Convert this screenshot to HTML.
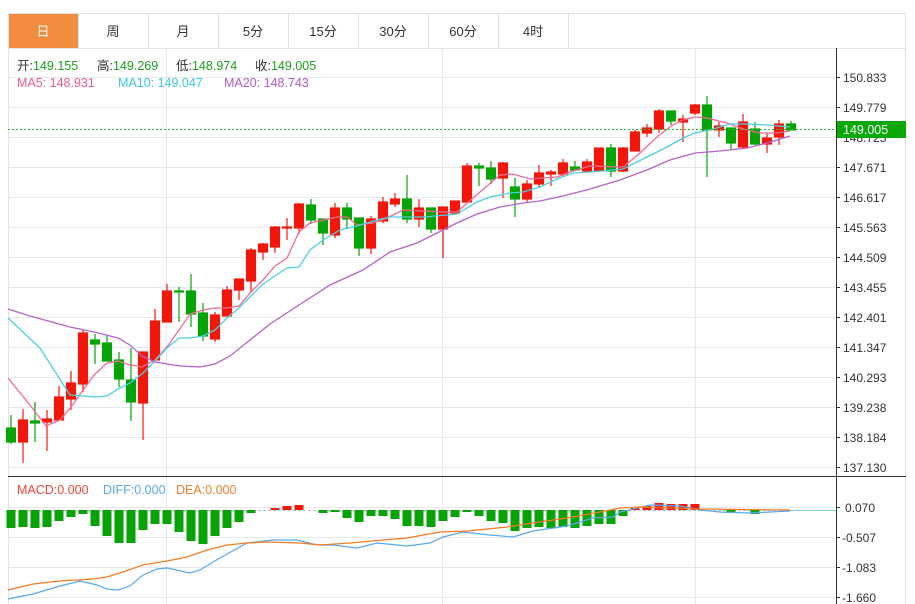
<!DOCTYPE html>
<html><head><meta charset="utf-8"><style>
html,body{margin:0;padding:0;background:#fff;}
body{width:915px;height:604px;overflow:hidden;position:relative;font-family:"Liberation Sans","Noto Sans CJK SC",sans-serif;}
svg{position:absolute;left:0;top:0;}
</style></head><body>
<svg width="915" height="604" xmlns="http://www.w3.org/2000/svg" font-family="Liberation Sans, Noto Sans CJK SC, sans-serif">
<rect x="8.5" y="13.5" width="897" height="600" fill="none" stroke="#dde3ea"/>
<line x1="8" y1="48.5" x2="906" y2="48.5" stroke="#dde3ea"/>
<rect x="9" y="14" width="69" height="34" fill="#f28c3f"/>
<g stroke="#dde3ea"><line x1="78.5" y1="13" x2="78.5" y2="48"/><line x1="148.5" y1="13" x2="148.5" y2="48"/><line x1="218.5" y1="13" x2="218.5" y2="48"/><line x1="288.5" y1="13" x2="288.5" y2="48"/><line x1="358.5" y1="13" x2="358.5" y2="48"/><line x1="428.5" y1="13" x2="428.5" y2="48"/><line x1="498.5" y1="13" x2="498.5" y2="48"/><line x1="568.5" y1="13" x2="568.5" y2="48"/></g>
<g font-size="13" text-anchor="middle" fill="#333"><text x="43" y="36" fill="#fff">日</text><text x="113" y="36">周</text><text x="183" y="36">月</text><text x="253" y="36">5分</text><text x="323" y="36">15分</text><text x="393" y="36">30分</text><text x="463" y="36">60分</text><text x="533" y="36">4时</text></g>
<g stroke="#e3e9ef" stroke-width="1">
<line x1="8" y1="77.5" x2="836" y2="77.5"/><line x1="8" y1="107.5" x2="836" y2="107.5"/><line x1="8" y1="137.5" x2="836" y2="137.5"/><line x1="8" y1="167.5" x2="836" y2="167.5"/><line x1="8" y1="197.5" x2="836" y2="197.5"/><line x1="8" y1="227.5" x2="836" y2="227.5"/><line x1="8" y1="257.5" x2="836" y2="257.5"/><line x1="8" y1="287.5" x2="836" y2="287.5"/><line x1="8" y1="317.5" x2="836" y2="317.5"/><line x1="8" y1="347.5" x2="836" y2="347.5"/><line x1="8" y1="377.5" x2="836" y2="377.5"/><line x1="8" y1="407.5" x2="836" y2="407.5"/><line x1="8" y1="437.5" x2="836" y2="437.5"/><line x1="8" y1="467.5" x2="836" y2="467.5"/>
<line x1="8" y1="507.5" x2="836" y2="507.5"/><line x1="8" y1="537.5" x2="836" y2="537.5"/><line x1="8" y1="567.5" x2="836" y2="567.5"/><line x1="8" y1="597.5" x2="836" y2="597.5"/>
<line x1="166.5" y1="48" x2="166.5" y2="604"/><line x1="442.5" y1="48" x2="442.5" y2="604"/><line x1="695.5" y1="48" x2="695.5" y2="604"/>
</g>
<line x1="836.5" y1="48" x2="836.5" y2="604" stroke="#333"/>
<line x1="8" y1="476.5" x2="906" y2="476.5" stroke="#333"/>
<g stroke="#333"><line x1="836" y1="77.5" x2="840" y2="77.5"/><line x1="836" y1="107.5" x2="840" y2="107.5"/><line x1="836" y1="137.5" x2="840" y2="137.5"/><line x1="836" y1="167.5" x2="840" y2="167.5"/><line x1="836" y1="197.5" x2="840" y2="197.5"/><line x1="836" y1="227.5" x2="840" y2="227.5"/><line x1="836" y1="257.5" x2="840" y2="257.5"/><line x1="836" y1="287.5" x2="840" y2="287.5"/><line x1="836" y1="317.5" x2="840" y2="317.5"/><line x1="836" y1="347.5" x2="840" y2="347.5"/><line x1="836" y1="377.5" x2="840" y2="377.5"/><line x1="836" y1="407.5" x2="840" y2="407.5"/><line x1="836" y1="437.5" x2="840" y2="437.5"/><line x1="836" y1="467.5" x2="840" y2="467.5"/><line x1="836" y1="507.5" x2="840" y2="507.5"/><line x1="836" y1="537.5" x2="840" y2="537.5"/><line x1="836" y1="567.5" x2="840" y2="567.5"/><line x1="836" y1="597.5" x2="840" y2="597.5"/></g>
<g font-size="12" fill="#333">
<text x="843" y="82">150.833</text><text x="843" y="112">149.779</text><text x="843" y="142">148.725</text><text x="843" y="172">147.671</text><text x="843" y="202">146.617</text><text x="843" y="232">145.563</text><text x="843" y="262">144.509</text><text x="843" y="292">143.455</text><text x="843" y="322">142.401</text><text x="843" y="352">141.347</text><text x="843" y="382">140.293</text><text x="843" y="412">139.238</text><text x="843" y="442">138.184</text><text x="843" y="472">137.130</text>
<text x="845" y="512">0.070</text><text x="842" y="542">-0.507</text><text x="842" y="572">-1.083</text><text x="842" y="602">-1.660</text>
</g>
<g font-size="12.5">
<text x="17" y="70" fill="#333">开:<tspan fill="#1aa31a">149.155</tspan></text>
<text x="97" y="70" fill="#333">高:<tspan fill="#1aa31a">149.269</tspan></text>
<text x="176" y="70" fill="#333">低:<tspan fill="#1aa31a">148.974</tspan></text>
<text x="255" y="70" fill="#333">收:<tspan fill="#1aa31a">149.005</tspan></text>
<text x="17" y="87" fill="#ef5b8a">MA5: 148.931</text>
<text x="118" y="87" fill="#3cc8de">MA10: 149.047</text>
<text x="224" y="87" fill="#b45ccc">MA20: 148.743</text>
<text x="17" y="494" fill="#f0443a">MACD:0.000</text>
<text x="103" y="494" fill="#5aa9f0">DIFF:0.000</text>
<text x="176" y="494" fill="#f08030">DEA:0.000</text>
</g>
<g stroke-width="1.2">
<g stroke="#05a305" fill="#05a305">
<line x1="11" y1="415" x2="11" y2="444"/><rect x="6.5" y="428" width="9" height="14"/>
<line x1="35" y1="402" x2="35" y2="442"/><rect x="30.5" y="421" width="9" height="2"/>
<line x1="95" y1="334" x2="95" y2="364"/><rect x="90.5" y="340" width="9" height="4"/>
<line x1="107" y1="336" x2="107" y2="361"/><rect x="102.5" y="343" width="9" height="18"/>
<line x1="119" y1="352" x2="119" y2="387"/><rect x="114.5" y="360" width="9" height="19"/>
<line x1="131" y1="348" x2="131" y2="421"/><rect x="126.5" y="380" width="9" height="22"/>
<line x1="179" y1="287" x2="179" y2="322"/><rect x="174.5" y="291" width="9" height="1"/>
<line x1="191" y1="274" x2="191" y2="327"/><rect x="186.5" y="291" width="9" height="23"/>
<line x1="203" y1="303" x2="203" y2="341"/><rect x="198.5" y="313" width="9" height="23"/>
<line x1="311" y1="199" x2="311" y2="224"/><rect x="306.5" y="205" width="9" height="15"/>
<line x1="323" y1="219" x2="323" y2="245"/><rect x="318.5" y="219" width="9" height="14"/>
<line x1="347" y1="203" x2="347" y2="228"/><rect x="342.5" y="208" width="9" height="11"/>
<line x1="359" y1="218" x2="359" y2="256"/><rect x="354.5" y="218" width="9" height="30"/>
<line x1="407" y1="175" x2="407" y2="223"/><rect x="402.5" y="199" width="9" height="20"/>
<line x1="431" y1="208" x2="431" y2="233"/><rect x="426.5" y="208" width="9" height="21"/>
<line x1="479" y1="163" x2="479" y2="186"/><rect x="474.5" y="166" width="9" height="2"/>
<line x1="491" y1="161" x2="491" y2="184"/><rect x="486.5" y="168" width="9" height="11"/>
<line x1="515" y1="178" x2="515" y2="217"/><rect x="510.5" y="187" width="9" height="12"/>
<line x1="575" y1="161" x2="575" y2="171"/><rect x="570.5" y="167" width="9" height="3"/>
<line x1="611" y1="144" x2="611" y2="177"/><rect x="606.5" y="148" width="9" height="23"/>
<line x1="671" y1="111" x2="671" y2="125"/><rect x="666.5" y="111" width="9" height="10"/>
<line x1="707" y1="96" x2="707" y2="177"/><rect x="702.5" y="105" width="9" height="25"/>
<line x1="731" y1="128" x2="731" y2="150"/><rect x="726.5" y="128" width="9" height="15"/>
<line x1="755" y1="122" x2="755" y2="145"/><rect x="750.5" y="129" width="9" height="15"/>
<line x1="791" y1="121" x2="791" y2="130"/><rect x="786.5" y="124" width="9" height="6"/>
</g>
<g stroke="#f2170b" fill="#f2170b">
<line x1="23" y1="409" x2="23" y2="463"/><rect x="18.5" y="420" width="9" height="22"/>
<line x1="47" y1="410" x2="47" y2="451"/><rect x="42.5" y="419" width="9" height="3"/>
<line x1="59" y1="386" x2="59" y2="420"/><rect x="54.5" y="397" width="9" height="23"/>
<line x1="71" y1="371" x2="71" y2="410"/><rect x="66.5" y="383" width="9" height="16"/>
<line x1="83" y1="330" x2="83" y2="392"/><rect x="78.5" y="333" width="9" height="51"/>
<line x1="143" y1="352" x2="143" y2="440"/><rect x="138.5" y="352" width="9" height="51"/>
<line x1="155" y1="309" x2="155" y2="360"/><rect x="150.5" y="321" width="9" height="39"/>
<line x1="167" y1="284" x2="167" y2="322"/><rect x="162.5" y="291" width="9" height="31"/>
<line x1="215" y1="312" x2="215" y2="342"/><rect x="210.5" y="315" width="9" height="24"/>
<line x1="227" y1="286" x2="227" y2="316"/><rect x="222.5" y="290" width="9" height="26"/>
<line x1="239" y1="279" x2="239" y2="300"/><rect x="234.5" y="279" width="9" height="11"/>
<line x1="251" y1="248" x2="251" y2="292"/><rect x="246.5" y="250" width="9" height="31"/>
<line x1="263" y1="243" x2="263" y2="260"/><rect x="258.5" y="244" width="9" height="8"/>
<line x1="275" y1="226" x2="275" y2="253"/><rect x="270.5" y="227" width="9" height="20"/>
<line x1="287" y1="218" x2="287" y2="240"/><rect x="282.5" y="227" width="9" height="1"/>
<line x1="299" y1="203" x2="299" y2="234"/><rect x="294.5" y="204" width="9" height="24"/>
<line x1="335" y1="203" x2="335" y2="238"/><rect x="330.5" y="208" width="9" height="27"/>
<line x1="371" y1="216" x2="371" y2="254"/><rect x="366.5" y="219" width="9" height="29"/>
<line x1="383" y1="197" x2="383" y2="223"/><rect x="378.5" y="202" width="9" height="19"/>
<line x1="395" y1="193" x2="395" y2="207"/><rect x="390.5" y="199" width="9" height="5"/>
<line x1="419" y1="199" x2="419" y2="227"/><rect x="414.5" y="208" width="9" height="11"/>
<line x1="443" y1="207" x2="443" y2="258"/><rect x="438.5" y="207" width="9" height="22"/>
<line x1="455" y1="201" x2="455" y2="213"/><rect x="450.5" y="201" width="9" height="12"/>
<line x1="467" y1="163" x2="467" y2="202"/><rect x="462.5" y="166" width="9" height="36"/>
<line x1="503" y1="162" x2="503" y2="198"/><rect x="498.5" y="163" width="9" height="15"/>
<line x1="527" y1="180" x2="527" y2="202"/><rect x="522.5" y="184" width="9" height="15"/>
<line x1="539" y1="165" x2="539" y2="187"/><rect x="534.5" y="173" width="9" height="11"/>
<line x1="551" y1="170" x2="551" y2="186"/><rect x="546.5" y="172" width="9" height="2"/>
<line x1="563" y1="159" x2="563" y2="177"/><rect x="558.5" y="163" width="9" height="11"/>
<line x1="587" y1="159" x2="587" y2="172"/><rect x="582.5" y="162" width="9" height="9"/>
<line x1="599" y1="148" x2="599" y2="171"/><rect x="594.5" y="148" width="9" height="23"/>
<line x1="623" y1="147" x2="623" y2="172"/><rect x="618.5" y="148" width="9" height="23"/>
<line x1="635" y1="130" x2="635" y2="151"/><rect x="630.5" y="132" width="9" height="19"/>
<line x1="647" y1="124" x2="647" y2="137"/><rect x="642.5" y="128" width="9" height="5"/>
<line x1="659" y1="109" x2="659" y2="133"/><rect x="654.5" y="111" width="9" height="18"/>
<line x1="683" y1="115" x2="683" y2="142"/><rect x="678.5" y="119" width="9" height="3"/>
<line x1="695" y1="104" x2="695" y2="115"/><rect x="690.5" y="105" width="9" height="8"/>
<line x1="719" y1="122" x2="719" y2="137"/><rect x="714.5" y="126" width="9" height="4"/>
<line x1="743" y1="114" x2="743" y2="148"/><rect x="738.5" y="122" width="9" height="25"/>
<line x1="767" y1="133" x2="767" y2="153"/><rect x="762.5" y="138" width="9" height="6"/>
<line x1="779" y1="120" x2="779" y2="145"/><rect x="774.5" y="124" width="9" height="13"/>
</g>
</g>
<g fill="none" stroke-width="1.3">
<polyline stroke="#ef6a94" points="8,378 30,405 46,426 60,420 71,407 94,375 107,363 118,361 130,365 142,367 155,360 167,347 179,330 190,314 203,310 215,308 227,308 239,306 251,292 263,280 275,266 287,258 299,232 310,223 337,217 347,217 357,225 373,223 387,218 403,210 423,211 447,212 457,212 480,192 500,175 513,174 530,179 557,177 570,172 590,166 623,167 640,153 657,137 670,127 680,121 695,117 707,118 727,123 743,129 760,133 777,133 790,131"/>
<polyline stroke="#4cd0e0" points="8,318 40,348 70,395 95,397 107,396 118,389 130,383 142,374 155,361 167,348 179,338 190,338 203,336 215,330 227,318 239,308 251,296 263,284 275,276 287,268 299,267 310,250 323,240 340,230 357,226 377,220 390,217 423,217 447,215 457,214 477,202 490,197 510,193 523,192 540,187 557,179 573,173 590,172 623,169 647,157 667,147 683,138 695,133 713,129 730,124 747,124 767,125 790,127"/>
<polyline stroke="#b762c9" points="8,309 30,316 70,327 94,332 118,338 130,345 142,356 155,362 180,366 200,367 215,364 230,356 250,340 270,324 299,305 330,285 363,270 390,252 417,243 437,233 457,223 477,214 500,207 523,203 540,201 563,196 590,189 620,180 647,170 670,160 695,153 720,151 747,148 767,143 790,136"/>
</g>
<line x1="8" y1="129.5" x2="836" y2="129.5" stroke="#2fb52f" stroke-dasharray="2,2"/>
<rect x="837" y="121" width="69" height="17" fill="#08a808"/>
<text x="843" y="134" font-size="12.5" fill="#fff">149.005</text>
<line x1="8" y1="510.5" x2="836" y2="510.5" stroke="#a8c4d8" stroke-dasharray="3,2"/>
<g fill="#05a305">
<rect x="6.5" y="510" width="9" height="18"/><rect x="18.5" y="510" width="9" height="17"/><rect x="30.5" y="510" width="9" height="18"/><rect x="42.5" y="510" width="9" height="17"/><rect x="54.5" y="510" width="9" height="11"/><rect x="66.5" y="510" width="9" height="7"/><rect x="78.5" y="510" width="9" height="4"/><rect x="90.5" y="510" width="9" height="16"/><rect x="102.5" y="510" width="9" height="26"/><rect x="114.5" y="510" width="9" height="33"/><rect x="126.5" y="510" width="9" height="33"/><rect x="138.5" y="510" width="9" height="20"/><rect x="150.5" y="510" width="9" height="14"/><rect x="162.5" y="510" width="9" height="14"/><rect x="174.5" y="510" width="9" height="22"/><rect x="186.5" y="510" width="9" height="31"/><rect x="198.5" y="510" width="9" height="34"/><rect x="210.5" y="510" width="9" height="26"/><rect x="222.5" y="510" width="9" height="18"/><rect x="234.5" y="510" width="9" height="12"/><rect x="246.5" y="510" width="9" height="3"/>
<rect x="318.5" y="510" width="9" height="3"/><rect x="330.5" y="510" width="9" height="2"/><rect x="342.5" y="510" width="9" height="8"/><rect x="354.5" y="510" width="9" height="12"/><rect x="366.5" y="510" width="9" height="6"/><rect x="378.5" y="510" width="9" height="6"/><rect x="390.5" y="510" width="9" height="9"/><rect x="402.5" y="510" width="9" height="16"/><rect x="414.5" y="510" width="9" height="16"/><rect x="426.5" y="510" width="9" height="17"/><rect x="438.5" y="510" width="9" height="11"/><rect x="450.5" y="510" width="9" height="7"/><rect x="462.5" y="510" width="9" height="2"/><rect x="474.5" y="510" width="9" height="6"/><rect x="486.5" y="510" width="9" height="11"/><rect x="498.5" y="510" width="9" height="13"/><rect x="510.5" y="510" width="9" height="21"/><rect x="522.5" y="510" width="9" height="18"/><rect x="534.5" y="510" width="9" height="17"/><rect x="546.5" y="510" width="9" height="18"/><rect x="558.5" y="510" width="9" height="17"/><rect x="570.5" y="510" width="9" height="18"/><rect x="582.5" y="510" width="9" height="16"/><rect x="594.5" y="510" width="9" height="14"/><rect x="606.5" y="510" width="9" height="14"/><rect x="618.5" y="510" width="9" height="6"/>
<rect x="726.5" y="510" width="9" height="3"/><rect x="750.5" y="510" width="9" height="4"/>
</g>
<g fill="#f2170b">
<rect x="270.5" y="508" width="9" height="2"/><rect x="282.5" y="506" width="9" height="4"/><rect x="294.5" y="505" width="9" height="5"/><rect x="630.5" y="508" width="9" height="2"/><rect x="642.5" y="506" width="9" height="4"/><rect x="654.5" y="503" width="9" height="7"/><rect x="666.5" y="504" width="9" height="6"/><rect x="678.5" y="504" width="9" height="6"/><rect x="690.5" y="504" width="9" height="6"/>
</g>
<g fill="none" stroke-width="1.2">
<polyline stroke="#5aaaf0" points="8,599 33,594 60,586 80,581 97,585 107,589 118,590 130,586 143,575 157,569 167,568 190,573 200,570 213,562 227,554 247,543 273,540 297,540 313,544 320,545 333,545 357,548 377,543 407,546 430,543 443,537 463,532 490,535 513,537 533,531 567,526 593,518 613,517 620,512 650,505 680,506 700,510 720,512 750,513 790,511"/>
<polyline stroke="#f57b22" points="8,590 33,584 60,581 93,579 107,577 123,572 143,565 167,561 187,557 207,550 227,545 247,543 267,542 300,543 320,545 350,543 383,540 407,538 440,532 467,531 507,527 533,523 567,518 600,512 620,508 640,507 700,509 790,510"/>
</g>
<line x1="790" y1="510.5" x2="836" y2="510.5" stroke="#6fd4ea" stroke-dasharray="3,2"/>
</svg>
</body></html>
